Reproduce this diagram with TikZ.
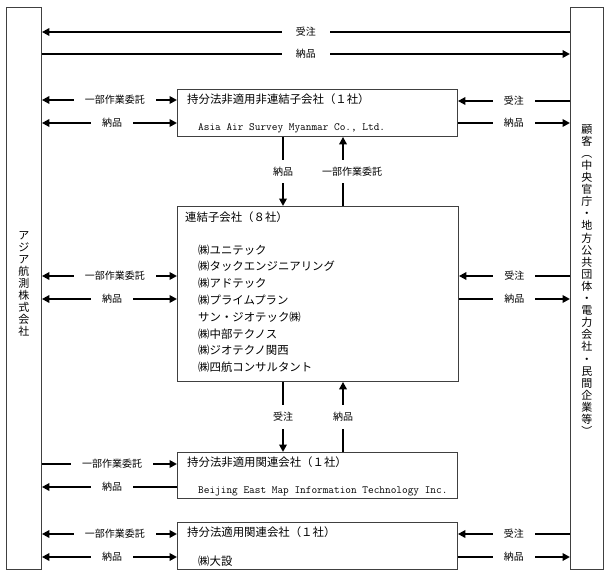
\documentclass[tikz,border=0pt]{standalone}
\usepackage{fontspec}
\setmainfont{Noto Sans CJK JP}
\usetikzlibrary{arrows.meta}
\tikzset{
  box/.style={draw=black!75,line width=.9pt,anchor=north west,inner sep=0pt},
  tip/.tip={Triangle[length=7.5pt,width=7.5pt]},
  arr/.style={line width=2.2pt,-tip},
  darr/.style={line width=2.2pt,tip-tip},
  lbl/.style={fill=white,inner xsep=11pt,inner ysep=1pt,font=\fontsize{10}{12}\selectfont},
  vlbl/.style={fill=white,inner xsep=1pt,inner ysep=7pt,font=\fontsize{10}{12}\selectfont},
  title/.style={anchor=west,inner sep=0pt,font=\fontsize{11.4}{13}\selectfont},
  eng/.style={anchor=west,inner sep=0pt,font=\ttfamily\fontsize{11}{12}\selectfont},
  vtext/.style={align=center,inner sep=0pt,font=\fontsize{11}{12.1}\selectfont}
}
\begin{document}
\begin{tikzpicture}[x=1pt,y=-1pt]
\useasboundingbox (0,0) rectangle (608,575);
\node[box,minimum width=35pt,minimum height=562pt] (aas) at (6,7) {};
\node[box,minimum width=33pt,minimum height=562pt] (cust) at (570,7) {};
\node[box,minimum width=280pt,minimum height=47pt] (myan) at (177,89) {};
\node[box,minimum width=281pt,minimum height=175pt] (subs) at (177,206) {};
\node[box,minimum width=280pt,minimum height=46pt] (bj) at (177,452) {};
\node[box,minimum width=280pt,minimum height=47pt] (dai) at (177,522) {};
\node[vtext] (aasname) at (aas.center |- 0,284) {ア\\ジ\\ア\\航\\測\\株\\式\\会\\社};
\node[vtext] (custname) at (cust.center |- 0,280) {顧\\客\\︵\\中\\央\\官\\庁\\・\\地\\方\\公\\共\\団\\体\\・\\電\\力\\会\\社\\・\\民\\間\\企\\業\\等\\︶};
\node[title] (myant) at (187,99) {持分法非適用非連結子会社（１社）};
\node[eng] (myann) at (198,128) {Asia Air Survey Myanmar Co., Ltd.};
\node[title] (subst) at (185,217) {連結子会社（８社）};
\foreach \co [count=\i] in {㈱ユニテック,㈱タックエンジニアリング,㈱アドテック,㈱プライムプラン,サン・ジオテック㈱,㈱中部テクノス,㈱ジオテクノ関西,㈱四航コンサルタント}
  \node[title] (sub\i) at (198,233+16.8*\i) {\co};
\node[title] (bjt) at (187,462) {持分法非適用関連会社（１社）};
\node[eng] (bjn) at (198,491) {Beijing East Map Information Technology Inc.};
\node[title] (dait) at (187,532) {持分法適用関連会社（１社）};
\node[title] (dain) at (198,561) {㈱大設};

\draw[arr] (cust.west |- 0,32) -- node[lbl,inner xsep=14pt] (t1) {受注} (aas.east |- 0,32);
\draw[arr] (aas.east |- 0,54) -- node[lbl,inner xsep=14pt] (t2) {納品} (cust.west |- 0,54);

\draw[darr] (aas.east |- 0,100) -- node[lbl,pos=.54] (a1) {一部作業委託} (myan.west |- 0,100);
\draw[darr] (aas.east |- 0,123) -- node[lbl,pos=.52] (a2) {納品} (myan.west |- 0,123);
\draw[arr] (cust.west |- 0,101) -- node[lbl] (a3) {受注} (myan.east |- 0,101);
\draw[arr] (myan.east |- 0,123) -- node[lbl] (a4) {納品} (cust.west |- 0,123);

\draw[arr] (myan.south -| 283,0) -- node[vlbl] (v1) {納品} (subs.north -| 283,0);
\draw[arr] (subs.north -| 343,0) -- node[vlbl,xshift=9pt] (v2) {一部作業委託} (myan.south -| 343,0);

\draw[darr] (aas.east |- 0,276) -- node[lbl,pos=.54] (b1) {一部作業委託} (subs.west |- 0,276);
\draw[darr] (aas.east |- 0,299) -- node[lbl,pos=.52] (b2) {納品} (subs.west |- 0,299);
\draw[arr] (cust.west |- 0,276) -- node[lbl] (b3) {受注} (subs.east |- 0,276);
\draw[arr] (subs.east |- 0,299) -- node[lbl] (b4) {納品} (cust.west |- 0,299);

\draw[arr] (subs.south -| 283,0) -- node[vlbl] (v3) {受注} (bj.north -| 283,0);
\draw[arr] (bj.north -| 343,0) -- node[vlbl] (v4) {納品} (subs.south -| 343,0);

\draw[arr] (aas.east |- 0,464) -- node[lbl,pos=.52] (c1) {一部作業委託} (bj.west |- 0,464);
\draw[arr] (bj.west |- 0,487) -- node[lbl,pos=.48] (c2) {納品} (aas.east |- 0,487);

\draw[darr] (aas.east |- 0,534) -- node[lbl,pos=.54] (d1) {一部作業委託} (dai.west |- 0,534);
\draw[darr] (aas.east |- 0,557) -- node[lbl,pos=.52] (d2) {納品} (dai.west |- 0,557);
\draw[arr] (cust.west |- 0,534) -- node[lbl] (d3) {受注} (dai.east |- 0,534);
\draw[arr] (dai.east |- 0,557) -- node[lbl] (d4) {納品} (cust.west |- 0,557);
\end{tikzpicture}
\end{document}
